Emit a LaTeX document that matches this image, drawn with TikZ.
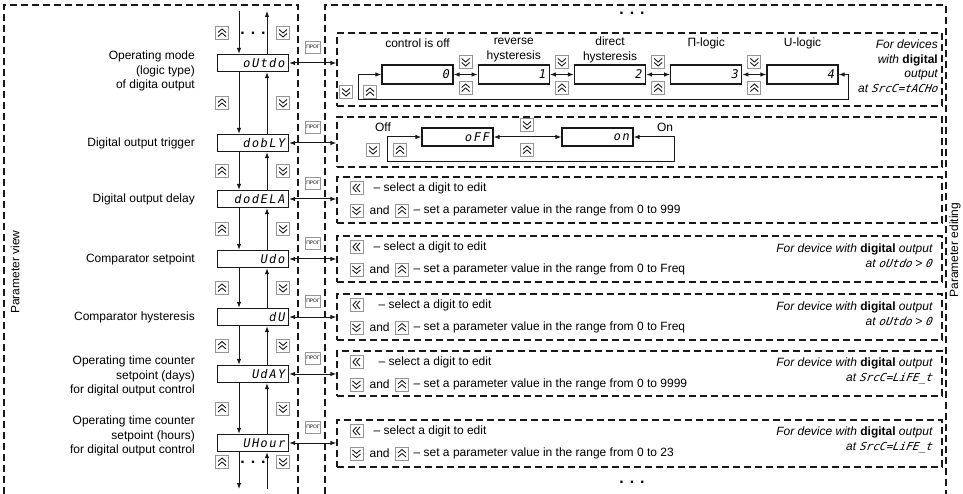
\documentclass[tikz,border=0pt]{standalone}
\usepackage{fontspec}
\setmainfont{Liberation Sans}
\newfontfamily\segfont{DejaVu Sans Mono}[FakeSlant=0.18,LetterSpace=12]
\newfontfamily\segnote{DejaVu Sans Mono}[FakeSlant=0.18]
\usetikzlibrary{arrows.meta,positioning,calc}
\definecolor{inkline}{RGB}{25,25,25}
\definecolor{keyframe}{RGB}{150,150,150}
\newcommand{\basefont}{\fontsize{12}{14.5}\selectfont}
\newcommand{\seg}[1]{{\segnote\fontsize{11}{14.5}\selectfont #1}}

\tikzset{
  lcd/.style={draw=inkline, line width=1.2pt, minimum height=17pt, text width=63pt,
    inner xsep=4pt, inner ysep=0pt, align=right, font=\segfont\fontsize{12}{12}\selectfont},
  lcdtall/.style={lcd, minimum height=19pt},
  lcdmid/.style={lcd, minimum height=18pt},
  panel/.style={draw=inkline, dash pattern=on 7pt off 4pt, line width=1.1pt,
    minimum width=605pt, inner sep=0pt},
  frame/.style={draw=inkline, dash pattern=on 7pt off 4pt, line width=1.1pt},
  prog/.style={draw=keyframe, line width=0.7pt, fill=white, minimum width=15pt,
    minimum height=12pt, inner sep=0pt, font=\fontsize{5}{5}\selectfont},
  pname/.style={anchor=east, align=right, inner sep=0pt},
  txt/.style={anchor=west, inner sep=0pt},
  note/.style={anchor=east, align=right, inner sep=0pt, font=\basefont\itshape},
  dots/.style={font=\fontsize{16}{16}\selectfont\bfseries, inner sep=0pt},
  conn/.style={-{Latex[length=6pt,width=4.5pt]}, line width=1pt, draw=inkline},
  dconn/.style={{Latex[length=6pt,width=4.5pt]}-{Latex[length=6pt,width=4.5pt]},
    line width=1pt, draw=inkline},
  keyglyph/.style={line width=0.9pt, draw=inkline},
  keyup/.pic={\draw[draw=keyframe, fill=white, line width=0.8pt] (-6.5,-6.5) rectangle (6.5,6.5);
    \draw[keyglyph] (-4,-0.5) -- (0,-4) -- (4,-0.5) (-4,3.5) -- (0,0) -- (4,3.5);},
  keydown/.pic={\draw[draw=keyframe, fill=white, line width=0.8pt] (-6.5,-6.5) rectangle (6.5,6.5);
    \draw[keyglyph] (-4,-3.5) -- (0,0) -- (4,-3.5) (-4,0.5) -- (0,4) -- (4,0.5);},
  keyleft/.pic={\draw[draw=keyframe, fill=white, line width=0.8pt] (-6.5,-6.5) rectangle (6.5,6.5);
    \draw[keyglyph] (0,-4) -- (-3.5,0) -- (0,4) (3.5,-4) -- (0,0) -- (3.5,4);},
}

\begin{document}
\begin{tikzpicture}[x=1pt, y=-1pt, font=\basefont]
\useasboundingbox (0,0) rectangle (963,494);

% Frames
\draw[frame] (4,494) -- (4,5) -- (298,5) -- (298,494);
\draw[frame] (325,494) -- (325,5) -- (946,5) -- (946,494);
\node[rotate=90] (pview) at (15,272) {Parameter view};
\node[rotate=90] (pedit) at (955,250) {Parameter editing};

% Parameter displays
\node[lcd] (oUtdo) at (253,63) {oUtdo};
\node[lcd] (dobLY) at (253,143) {dobLY};
\node[lcd] (dodELA) at (253,199) {dodELA};
\node[lcd] (Udo) at (253,259) {Udo};
\node[lcd] (dU) at (253,317) {dU};
\node[lcd] (UdAY) at (253,374) {UdAY};
\node[lcd] (UHour) at (253,443) {UHour};

% Parameter names
\node[pname] (tMode) at (195,71) {Operating mode\\(logic type)\\of digita output};
\node[pname] (tTrig) at (195,143) {Digital output trigger};
\node[pname] (tDelay) at (195,199) {Digital output delay};
\node[pname] (tSet) at (195,259) {Comparator setpoint};
\node[pname] (tHyst) at (195,317) {Comparator hysteresis};
\node[pname] (tDays) at (195,376) {Operating time counter\\setpoint (days)\\for digital output control};
\node[pname] (tHours) at (195,436) {Operating time counter\\setpoint (hours)\\for digital output control};

% Scrolling through the list
\coordinate (inL) at (239,11);
\coordinate (inR) at (267,11);
\coordinate (outL) at (239,489);
\coordinate (outR) at (267,489);
\draw[conn] (inL) -- (inL |- oUtdo.north);
\draw[conn] (inR |- oUtdo.north) -- (inR);
\draw[conn] (outL |- UHour.south) -- (outL);
\draw[conn] (outR) -- (outR |- UHour.south);
\node[dots] (moreTL) at (253,33) {. . .};
\node[dots] (moreBL) at (253,462) {. . .};
\pic at (222,33) {keyup};
\pic at (283,33) {keydown};
\pic at (222,462) {keyup};
\pic at (283,462) {keydown};
\foreach \a/\b in {oUtdo/dobLY, dobLY/dodELA, dodELA/Udo, Udo/dU, dU/UdAY, UdAY/UHour} {
  \draw[conn] ([xshift=-14pt]\a.south) -- ([xshift=-14pt]\b.north);
  \draw[conn] ([xshift=14pt]\b.north) -- ([xshift=14pt]\a.south);
  \pic at ($(\a)!0.5!(\b)+(-31,0)$) {keyup};
  \pic at ($(\a)!0.5!(\b)+(30,0)$) {keydown};
}

% Editing panels
\node[panel, minimum height=73pt] (pMode) at (639.5,69.5) {};
\node[panel, minimum height=50pt] (pTrig) at (639.5,142) {};
\node[panel, minimum height=46pt] (pDelay) at (639.5,200) {};
\node[panel, minimum height=46pt] (pSet) at (639.5,259) {};
\node[panel, minimum height=46pt] (pHyst) at (639.5,317) {};
\node[panel, minimum height=45pt] (pDays) at (639.5,373.5) {};
\node[panel, minimum height=47pt] (pHours) at (639.5,443.5) {};
\node[dots] (moreTR) at (632,13) {. . .};
\node[dots] (moreBR) at (632,482) {. . .};

% PROG links
\coordinate (progx) at (313,0);
\foreach \d/\p in {oUtdo/pMode, dobLY/pTrig, dodELA/pDelay, Udo/pSet, dU/pHyst, UdAY/pDays, UHour/pHours} {
  \path (\d.east -| progx) ++(0,-16) node[prog] (pg\d) {ПРОГ};
  \draw[dconn] (\d.east) -- (\d.east -| \p.west);
}

% Logic type
\foreach \i/\x in {0/417.5, 1/513.75, 2/610, 3/706.25, 4/802.5}
  \node[lcdtall] (lg\i) at (\x,74.5) {\i};
\node (lb0) at (417.5,43) {control is off};
\node[align=center] (lb1) at (513.75,50) {reverse\\hysteresis};
\node[align=center] (lb2) at (610,50) {direct\\hysteresis};
\node (lb3) at (706.25,43) {П-logic};
\node (lb4) at (802.5,43) {U-logic};
\foreach \a/\b in {0/1, 1/2, 2/3, 3/4} {
  \draw[dconn] (lg\a) -- (lg\b);
  \pic at ($(lg\a.east)!0.5!(lg\b.west)+(0,-12.5)$) {keydown};
  \pic at ($(lg\a.east)!0.5!(lg\b.west)+(0,13.5)$) {keyup};
}
\coordinate (lgL) at (358,100);
\coordinate (lgR) at (848,100);
\draw[dconn] (lg0.west) -| (lgL) -- (lgR) |- (lg4.east);
\pic at (346,92) {keydown};
\pic at (370,92) {keyup};
\node[note] (nMode) at (938,66) {For devices\\with \textbf{\upshape digital}\\output\\at \seg{SrcC=tACHo}};

% Trigger
\node[lcdmid] (dOff) at (457.5,137) {oFF};
\node[lcdmid] (dOn) at (597.5,137) {on};
\node (lbOff) at (383,127) {Off};
\node (lbOn) at (665,127) {On};
\draw[dconn] (dOff) -- (dOn);
\pic at (527,125) {keydown};
\pic at (527,150) {keyup};
\coordinate (tgL) at (387,162);
\coordinate (tgR) at (674,162);
\draw[dconn] (dOff.west) -| (tgL) -- (tgR) |- (dOn.east);
\pic at (373,150) {keydown};
\pic at (400,150) {keyup};

% Numeric values
\foreach \p/\hi/\gap in {pDelay/999/37, pSet/Freq/37, pHyst/Freq/42, pDays/9999/42, pHours/23/37} {
  \pic at ([shift={(20,11.5)}]\p.north west) {keyleft};
  \node[txt] (\p Sel) at ([shift={(\gap,11.5)}]\p.north west) {– select a digit to edit};
  \pic at ([shift={(20,34)}]\p.north west) {keydown};
  \node[txt] (\p And) at ([shift={(33,34)}]\p.north west) {and};
  \pic at ([shift={(65.5,34)}]\p.north west) {keyup};
  \node[txt] (\p Set) at ([shift={(77,34)}]\p.north west) {– set a parameter value in the range from 0 to \hi};
}
\node[note] (nSet) at ([shift={(-10,20.5)}]pSet.north east) {For device with \textbf{\upshape digital} output\\at \seg{oUtdo} > \seg{0}};
\node[note] (nHyst) at ([shift={(-10,20.5)}]pHyst.north east) {For device with \textbf{\upshape digital} output\\at \seg{oUtdo} > \seg{0}};
\node[note] (nDays) at ([shift={(-10,20.5)}]pDays.north east) {For device with \textbf{\upshape digital} output\\at \seg{SrcC=LiFE\_t}};
\node[note] (nHours) at ([shift={(-10,20.5)}]pHours.north east) {For device with \textbf{\upshape digital} output\\at \seg{SrcC=LiFE\_t}};
\end{tikzpicture}
\end{document}
